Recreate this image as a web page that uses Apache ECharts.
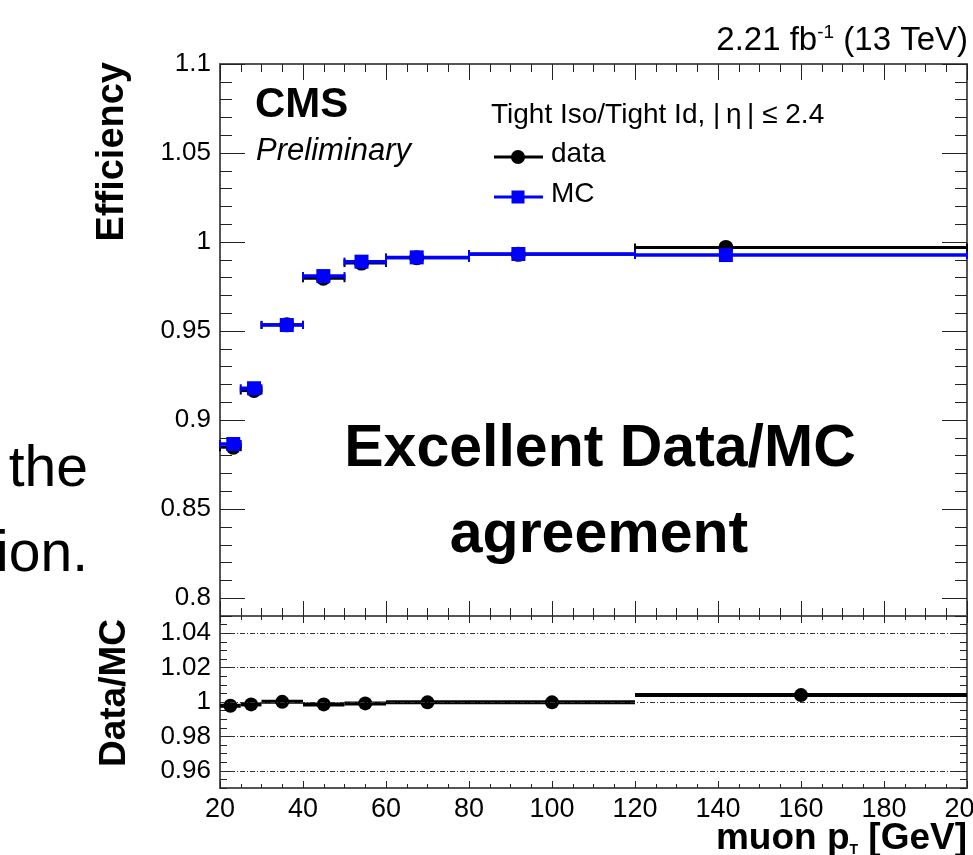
<!DOCTYPE html>
<html>
<head>
  <meta charset="utf-8">
  <script src="https://cdn.jsdelivr.net/npm/echarts@6.0.0/dist/echarts.min.js"></script>
</head>
<body style="margin:0; background:#fff">
  <div id="main" style="width:973px; height:855px"></div>
  <script>
    // muon pT bins and efficiencies
    var binLo = [20, 25, 30, 40, 50, 60, 80, 120];
    var binHi = [25, 30, 40, 50, 60, 80, 120, 200];
    var ptMean = [23.2, 28.2, 36.1, 44.9, 54.1, 67.4, 91.9, 141.9];   // marker position, top pad
    var ptCenter = [22.5, 27.5, 35, 45, 55, 70, 100, 160];            // marker position, ratio pad
    var effData = [0.8848, 0.9166, 0.9535, 0.9797, 0.9882, 0.9912, 0.9931, 0.9970];
    var effMC = [0.8866, 0.9179, 0.9534, 0.9809, 0.9890, 0.9914, 0.9933, 0.9927];
    var ratio = [0.9978, 0.9986, 1.0001, 0.9986, 0.9992, 0.9998, 0.9998, 1.0040];

    var effTicks = [0.8, 0.85, 0.9, 0.95, 1, 1.05, 1.1];
    var ratioTicks = [0.96, 0.98, 1, 1.02, 1.04];
    var ptTicks = [20, 40, 60, 80, 100, 120, 140, 160, 180, 200];

    var FONT = '"Liberation Sans", Arial, Helvetica, sans-serif';
    var BLUE = '#0000ff';

    var effMinor = [];
    for (var i = 79; i <= 110; i++) effMinor.push(i / 100);
    var ratioMinor = [];
    for (var j = 190; j <= 210; j++) ratioMinor.push(j / 200);

    var frameStyle = { color: '#555', width: 2 };
    var tickStyle = { color: '#222', width: 1 };

    function fmt(v) { return String(+(+v).toFixed(3)); }

    // four overlapping y axes per pad: left/right, short/long ticks (ROOT-like frame)
    function yAxisSet(grid, min, max, majors, minors, majLen, minLen) {
      function ax(pos, vals, len, line, label) {
        return {
          type: 'value', gridIndex: grid, position: pos, min: min, max: max,
          splitLine: { show: false },
          axisLine: { show: line, lineStyle: frameStyle },
          axisTick: { show: true, inside: true, length: len, customValues: vals, lineStyle: tickStyle },
          axisLabel: label ? {
            show: true, customValues: majors, formatter: fmt, margin: 9,
            fontFamily: FONT, fontSize: 26, color: '#000'
          } : { show: false }
        };
      }
      return [
        ax('left', minors, minLen, true, true),
        ax('left', majors, majLen, false, false),
        ax('right', minors, minLen, true, false),
        ax('right', majors, majLen, false, false)
      ];
    }

    function xAxisSet(grid, botLen, botMinor, topLen, topMinor, labels) {
      function ax(pos, len, minLen, label) {
        return {
          type: 'value', gridIndex: grid, position: pos, min: 20, max: 200, interval: 20,
          splitLine: { show: false },
          axisLine: { show: true, onZero: false, lineStyle: frameStyle },
          axisTick: { show: true, inside: true, length: len, lineStyle: tickStyle },
          minorTick: { show: true, splitNumber: 4, length: minLen, lineStyle: tickStyle },
          axisLabel: label ? {
            show: true, margin: 8, fontFamily: FONT, fontSize: 27, color: '#000',
            customValues: ptTicks
          } : { show: false }
        };
      }
      return [ax('bottom', botLen, botMinor, labels), ax('top', topLen, topMinor, false)];
    }

    function errBar(color, width, cap) {
      return function (params, api) {
        var y = api.value(2);
        var p1 = api.coord([api.value(0), y]);
        var p2 = api.coord([api.value(1), y]);
        var kids = [{
          type: 'line',
          shape: { x1: p1[0], y1: p1[1], x2: p2[0], y2: p2[1] },
          style: { stroke: color, lineWidth: width }
        }];
        if (cap) {
          [p1[0], p2[0]].forEach(function (x) {
            kids.push({
              type: 'line',
              shape: { x1: x, y1: p1[1] - cap, x2: x, y2: p1[1] + cap },
              style: { stroke: color, lineWidth: 2 }
            });
          });
        }
        return { type: 'group', children: kids };
      };
    }

    function bars(vals) {
      return vals.map(function (v, k) { return [binLo[k], binHi[k], v]; });
    }
    function pts(xs, vals) {
      return vals.map(function (v, k) { return [xs[k], v]; });
    }

    var chart = echarts.init(document.getElementById('main'), null, { renderer: 'canvas' });

    var option = {
      animation: false,
      backgroundColor: '#fff',
      grid: [
        { left: 220, top: 64, width: 747, height: 552, outerBoundsMode: 'none' },
        { left: 220, top: 616, width: 747, height: 172, outerBoundsMode: 'none' }
      ],
      xAxis: xAxisSet(0, 15, 8, 16, 8, false).concat(xAxisSet(1, 7, 4, 7, 4, true)),
      yAxis: yAxisSet(0, 0.79, 1.1, effTicks, effMinor, 25, 12)
        .concat(yAxisSet(1, 0.95, 1.05, ratioTicks, ratioMinor, 12, 7)),
      series: [
        {
          type: 'custom', xAxisIndex: 0, yAxisIndex: 0, renderItem: errBar('#000', 3, 4),
          encode: { x: [0, 1], y: 2 }, data: bars(effData), silent: true
        },
        {
          type: 'scatter', xAxisIndex: 0, yAxisIndex: 0, symbol: 'circle', symbolSize: 15,
          itemStyle: { color: '#000', opacity: 1 }, data: pts(ptMean, effData), silent: true
        },
        {
          type: 'custom', xAxisIndex: 0, yAxisIndex: 0, renderItem: errBar(BLUE, 3.5, 4),
          encode: { x: [0, 1], y: 2 }, data: bars(effMC), silent: true
        },
        {
          type: 'scatter', xAxisIndex: 0, yAxisIndex: 0, symbol: 'rect', symbolSize: 14,
          itemStyle: { color: BLUE, opacity: 1 }, data: pts(ptMean, effMC), silent: true
        },
        {
          type: 'custom', xAxisIndex: 2, yAxisIndex: 4, renderItem: errBar('#000', 4, 0),
          encode: { x: [0, 1], y: 2 }, data: bars(ratio), silent: true,
          markLine: {
            silent: true, symbol: 'none', label: { show: false },
            lineStyle: { color: '#333', width: 1, type: [5, 2, 1, 2] },
            data: ratioTicks.map(function (v) { return { yAxis: v }; })
          }
        },
        {
          type: 'scatter', xAxisIndex: 2, yAxisIndex: 4, symbol: 'circle', symbolSize: 14,
          itemStyle: { color: '#000', opacity: 1 }, data: pts(ptCenter, ratio), silent: true
        }
      ],
      graphic: [
        // slide text cut at the left edge
        { type: 'text', style: { text: 'the', x: 88, y: 470, align: 'right', verticalAlign: 'middle', font: '57px ' + FONT, fill: '#000' } },
        { type: 'text', style: { text: 'ion.', x: 88, y: 555, align: 'right', verticalAlign: 'middle', font: '57px ' + FONT, fill: '#000' } },
        {
          type: 'text', z: 100, style: {
            text: '2.21 fb{sup|-1} (13 TeV)', x: 968, y: 41, align: 'right', verticalAlign: 'middle',
            font: '33px ' + FONT, fill: '#000',
            rich: { sup: { fontSize: 19, fontFamily: FONT, verticalAlign: 'top', lineHeight: 35 } }
          }
        },
        { type: 'text', style: { text: 'CMS', x: 255, y: 105, verticalAlign: 'middle', font: 'bold 42px ' + FONT, fill: '#000' } },
        { type: 'text', style: { text: 'Preliminary', x: 256, y: 151, verticalAlign: 'middle', font: 'italic 31px ' + FONT, fill: '#000' } },
        { type: 'text', style: { text: 'Tight Iso/Tight Id, |\u2009η\u2009| ≤ 2.4', x: 491, y: 115, verticalAlign: 'middle', font: '28px ' + FONT, fill: '#000' } },
        { type: 'line', shape: { x1: 494, y1: 157, x2: 543, y2: 157 }, style: { stroke: '#000', lineWidth: 3 } },
        { type: 'circle', shape: { cx: 518, cy: 157, r: 7 }, style: { fill: '#000' } },
        { type: 'text', style: { text: 'data', x: 551, y: 154, verticalAlign: 'middle', font: '28px ' + FONT, fill: '#000' } },
        { type: 'line', shape: { x1: 494, y1: 197, x2: 543, y2: 197 }, style: { stroke: BLUE, lineWidth: 3 } },
        { type: 'rect', shape: { x: 511.5, y: 190.5, width: 13, height: 13 }, style: { fill: BLUE } },
        { type: 'text', style: { text: 'MC', x: 551, y: 194, verticalAlign: 'middle', font: '28px ' + FONT, fill: '#000' } },
        { type: 'text', style: { text: 'Excellent Data/MC', x: 600, y: 450, align: 'center', verticalAlign: 'middle', font: 'bold 59px ' + FONT, fill: '#000' } },
        { type: 'text', style: { text: 'agreement', x: 599, y: 536, align: 'center', verticalAlign: 'middle', font: 'bold 59px ' + FONT, fill: '#000' } },
        {
          type: 'text', x: 113, y: 62, rotation: Math.PI / 2,
          style: { text: 'Efficiency', align: 'right', verticalAlign: 'middle', font: 'bold 38px ' + FONT, fill: '#000' }
        },
        {
          type: 'text', x: 115, y: 693, rotation: Math.PI / 2,
          style: { text: 'Data/MC', align: 'center', verticalAlign: 'middle', font: 'bold 37px ' + FONT, fill: '#000' }
        },
        {
          type: 'text', style: {
            text: 'muon p{sub|T} [GeV]', x: 967, y: 839, align: 'right', verticalAlign: 'middle',
            font: 'bold 37px ' + FONT, fill: '#000',
            rich: { sub: { fontSize: 14, fontWeight: 'bold', fontFamily: FONT, verticalAlign: 'bottom', lineHeight: 37 } }
          }
        }
      ]
    };

    chart.setOption(option);
    window.addEventListener('resize', chart.resize);
  </script>
</body>
</html>
